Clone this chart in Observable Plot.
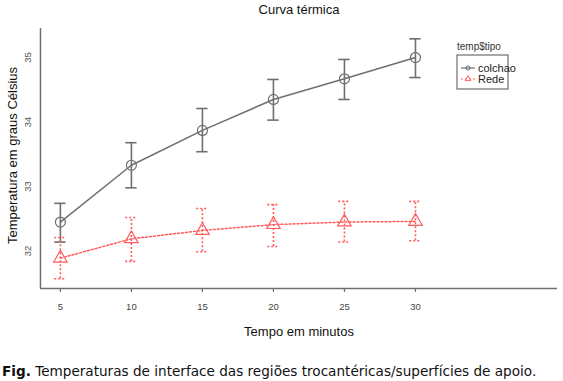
<!DOCTYPE html>
<html>
<head>
<meta charset="utf-8">
<script src="https://cdn.jsdelivr.net/npm/d3@7"></script>
<script src="https://cdn.jsdelivr.net/npm/@observablehq/plot@0.6"></script>
<style>
  body { margin: 0; background: #fff; width: 563px; height: 381px; overflow: hidden; }
  #chart svg { display: block; }
  #caption { font-family: "DejaVu Sans", Verdana, sans-serif; font-size: 13.6px; line-height: 16px; margin: 8px 0 0 2px; color: #111; white-space: nowrap; }
</style>
</head>
<body>
<div id="chart"></div>
<div id="caption"><b>Fig.</b> Temperaturas de interface das regiões trocantéricas/superfícies de apoio.</div>
<script>
// ---- data ----
const minutes = [5, 10, 15, 20, 25, 30];
const colchaoMean  = [32.45, 33.33, 33.87, 34.35, 34.67, 35.00];
const colchaoLower = [32.14, 32.98, 33.54, 34.03, 34.35, 34.69];
const colchaoUpper = [32.74, 33.68, 34.21, 34.66, 34.97, 35.29];
const redeMean  = [31.89, 32.19, 32.32, 32.41, 32.45, 32.46];
const redeLower = [31.57, 31.84, 31.99, 32.07, 32.14, 32.16];
const redeUpper = [32.21, 32.52, 32.66, 32.72, 32.77, 32.77];
const xTicks = [5, 10, 15, 20, 25, 30];
const yTicks = [32, 33, 34, 35];
const seriesNames = ["colchao", "Rede"];
const title = "Curva térmica";
const xLabel = "Tempo em minutos";
const yLabel = "Temperatura em graus Célsius";
const legendTitle = "temp$tipo";

const colchao = minutes.map((t, i) => ({t, m: colchaoMean[i], lo: colchaoLower[i], hi: colchaoUpper[i]}));
const rede = minutes.map((t, i) => ({t, m: redeMean[i], lo: redeLower[i], hi: redeUpper[i]}));

const gray = "#6f6f6f";
const red = "#ff5c5c";
const capHalf = 0.4;
const xDomain = [3.6, 40];
const yDomain = [31.42, 35.45];
const tickFont = "'Liberation Sans Narrow', 'Liberation Sans', Arial, sans-serif";

const plot = Plot.plot({
  width: 563,
  height: 355,
  marginLeft: 40,
  marginRight: 6,
  marginTop: 28,
  marginBottom: 67,
  style: {fontFamily: "'Liberation Sans', Arial, sans-serif", background: "#fff"},
  x: {domain: xDomain, axis: null},
  y: {domain: yDomain, axis: null},
  marks: [
    // axes frame lines
    Plot.ruleX([xDomain[0]], {stroke: gray, strokeWidth: 1.5}),
    Plot.ruleY([yDomain[0]], {stroke: gray, strokeWidth: 1.5}),
    Plot.axisX({ticks: xTicks, tickSize: 4, tickPadding: 11, stroke: gray, strokeWidth: 1.2, fill: "#444", fontSize: 9.5, fontFamily: tickFont, label: null}),
    Plot.text(yTicks, {y: d => d, text: d => String(d), frameAnchor: "left", textAnchor: "middle", lineAnchor: "middle", dx: -13, rotate: -90, fill: "#555", fontSize: 9.5, fontFamily: tickFont}),
    // labels
    Plot.text([title], {frameAnchor: "top", textAnchor: "middle", lineAnchor: "top", dy: -24, fontSize: 13, fill: "#111"}),
    Plot.text([xLabel], {frameAnchor: "bottom", textAnchor: "middle", lineAnchor: "bottom", dy: 47, fontSize: 13, fill: "#111"}),
    Plot.text([yLabel], {frameAnchor: "left", textAnchor: "middle", lineAnchor: "middle", dx: -28, dy: -3, rotate: -90, fontSize: 13, fill: "#111"}),
    // colchao
    Plot.line(colchao, {x: "t", y: "m", stroke: gray, strokeWidth: 1.5}),
    Plot.ruleX(colchao, {x: "t", y1: "lo", y2: "hi", stroke: gray, strokeWidth: 1.6}),
    Plot.ruleY(colchao, {y: "hi", x1: d => d.t - capHalf, x2: d => d.t + capHalf, stroke: gray, strokeWidth: 1.6}),
    Plot.ruleY(colchao, {y: "lo", x1: d => d.t - capHalf, x2: d => d.t + capHalf, stroke: gray, strokeWidth: 1.6}),
    Plot.dot(colchao, {x: "t", y: "m", r: 5, stroke: gray, fill: "none", strokeWidth: 1.2}),
    // rede
    Plot.line(rede, {x: "t", y: "m", stroke: red, strokeWidth: 1.5, strokeDasharray: "2,2"}),
    Plot.ruleX(rede, {x: "t", y1: "lo", y2: "hi", stroke: red, strokeWidth: 1.6, strokeDasharray: "2,2"}),
    Plot.ruleY(rede, {y: "hi", x1: d => d.t - capHalf, x2: d => d.t + capHalf, stroke: red, strokeWidth: 1.6, strokeDasharray: "2,2"}),
    Plot.ruleY(rede, {y: "lo", x1: d => d.t - capHalf, x2: d => d.t + capHalf, stroke: red, strokeWidth: 1.6, strokeDasharray: "2,2"}),
    Plot.dot(rede, {x: "t", y: "m", r: 5, symbol: "triangle", stroke: red, fill: "none", strokeWidth: 1.2})
  ]
});
document.getElementById("chart").appendChild(plot);

// legend
const svg = d3.select(plot);
const lg = svg.append("g").attr("transform", "translate(457,55)")
  .style("font-family", tickFont);
lg.append("text").attr("x", 0).attr("y", -5).attr("text-anchor", "start").attr("font-size", 10).attr("fill", "#333").text(legendTitle);
lg.append("rect").attr("x", 0).attr("y", 0).attr("width", 51).attr("height", 34)
  .attr("fill", "none").attr("stroke", gray).attr("stroke-width", 1.2);
const styles = [
  {stroke: gray, dash: null, sym: d3.symbolCircle},
  {stroke: red, dash: "2,2", sym: d3.symbolTriangle}
];
seriesNames.forEach((name, i) => {
  const yy = 13 + i * 11;
  const s = styles[i];
  lg.append("line").attr("x1", 4).attr("x2", 18).attr("y1", yy).attr("y2", yy)
    .attr("stroke", s.stroke).attr("stroke-width", 1.2).attr("stroke-dasharray", s.dash);
  lg.append("path").attr("d", d3.symbol(s.sym, 14)()).attr("transform", `translate(11,${yy})`)
    .attr("fill", "none").attr("stroke", s.stroke).attr("stroke-width", 1);
  lg.append("text").attr("x", 21).attr("y", yy).attr("dy", "0.35em").attr("text-anchor", "start").attr("font-size", 11).attr("fill", "#222").text(name);
});
</script>
</body>
</html>
